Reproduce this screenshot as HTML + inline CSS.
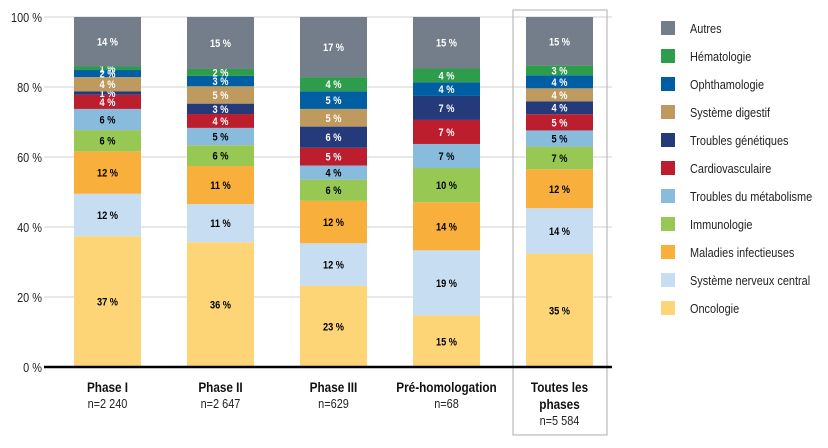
<!DOCTYPE html>
<html><head><meta charset="utf-8"><style>
html,body{margin:0;padding:0;background:#fff;}
svg{display:block;font-family:"Liberation Sans Narrow","Liberation Sans",sans-serif;}
</style></head><body>
<svg id="c" width="828" height="448" viewBox="0 0 828 448"></svg>
<script>
const categories=["Phase I","Phase II","Phase III","Pré-homologation","Toutes les phases"];
const counts=["n=2 240","n=2 647","n=629","n=68","n=5 584"];
const seriesNames=["Oncologie","Système nerveux central","Maladies infectieuses","Immunologie","Troubles du métabolisme","Cardiovasculaire","Troubles génétiques","Système digestif","Ophthamologie","Hématologie","Autres"];
const oncologie=[37,36,23,15,35];
const snc=[12,11,12,19,14];
const infect=[12,11,12,14,12];
const immuno=[6,6,6,10,7];
const metabo=[6,5,4,7,5];
const cardio=[4,4,5,7,5];
const genet=[1,3,6,7,4];
const digestif=[4,5,5,0,4];
const ophtha=[2,3,5,4,4];
const hemato=[1,2,4,4,3];
const autres=[14,15,17,15,15];
const yTicks=[0,20,40,60,80,100];
const series=[oncologie,snc,infect,immuno,metabo,cardio,genet,digestif,ophtha,hemato,autres];
const colors=["#FDD577","#C6DDF2","#F9AF3C","#96C853","#89BBDD","#BD1E2D","#243A7B","#BE9A5F","#005EA2","#2E9D4B","#737E8A"];
const textCol=["#000","#000","#000","#000","#000","#fff","#fff","#fff","#fff","#fff","#fff"];
const svg=document.getElementById('c');const NS="http://www.w3.org/2000/svg";
function mk(t,a,txt){const e=document.createElementNS(NS,t);for(const k in a)e.setAttribute(k,a[k]);if(txt!==undefined)e.textContent=txt;svg.appendChild(e);return e;}
function tx(x,yy,a,txt){a.transform='translate('+x+','+yy+') scale(0.84,1)';a.x=0;a.y=0;return mk('text',a,txt);}
const y0=367,y1=17;
function y(v){return y0-(y0-y1)*v/100;}
function xc(i){return 107.5+i*113;}
const bw=67;
yTicks.forEach(t=>{
 if(t>0){const g=mk('line',{x1:44,x2:612,y1:y(t),y2:y(t),stroke:'#d0d0d0','stroke-width':1});
 
 }
 const l=tx(42,y(t)+5,{'text-anchor':'end','font-size':13,fill:'#222'},t+' %');
 
 
});
const box=mk('rect',{x:513,y:10,width:94,height:425,fill:'none',stroke:'#bbb','stroke-width':1.2});


categories.forEach((c,i)=>{
 let tot=0;series.forEach(s=>tot+=s[i]);
 let acc=0;
 series.forEach((s,k)=>{
  const v=s[i]/tot*100;if(s[i]<=0)return;
  const top=y(acc+v),bot=y(acc);
  const r=mk('rect',{x:xc(i)-bw/2,y:top,width:bw,height:bot-top,fill:colors[k]});
  
  
  const t=tx(xc(i),(top+bot)/2+4,{'text-anchor':'middle','font-size':11,'font-weight':'bold',fill:textCol[k]},s[i]+' %');
  
  
  acc+=v;
 });
 const lines=i==4?["Toutes les","phases"]:[c];
 lines.forEach((ln,j)=>{
  const t=tx(xc(i),392+j*17,{'text-anchor':'middle','font-size':14,'font-weight':'bold',fill:'#111'},ln);
  
  
 });
 const n=tx(xc(i),392+lines.length*17-1,{'text-anchor':'middle','font-size':13,fill:'#222'},counts[i]);
 
 
});
const ax=mk('line',{x1:44,x2:612,y1:y0,y2:y0,stroke:'#000','stroke-width':2.5});


seriesNames.forEach((nm,k)=>{
 const yy=28+(10-k)*28;
 const s=mk('rect',{x:661,y:yy-7,width:14,height:14,fill:colors[k]});
 
 
 const t=tx(690,yy+5,{'font-size':13,fill:'#222'},nm);
 
 
});
</script>
</body></html>
